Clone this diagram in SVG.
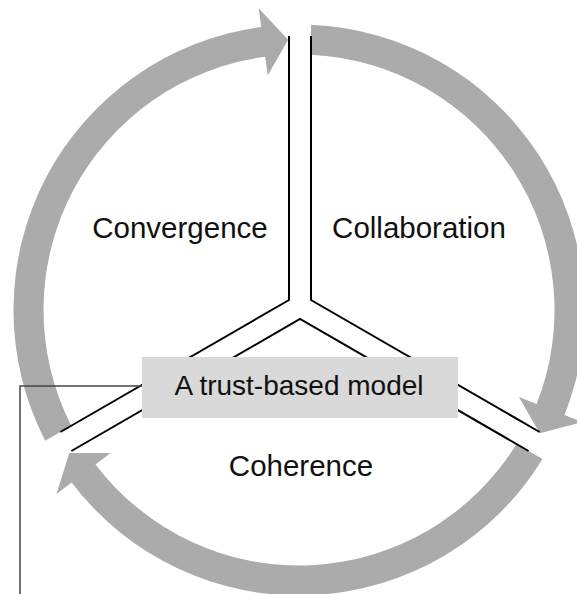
<svg xmlns="http://www.w3.org/2000/svg" width="577" height="594" viewBox="0 0 577 594">
  <style>
    .arc { fill: #ababab; stroke: none; }
    .div { fill: none; stroke: #000; stroke-width: 2; stroke-linejoin: miter; }
    .conn { fill: none; stroke: #444; stroke-width: 1.5; }
    .lbl { font-family: "Liberation Sans", Arial, sans-serif; font-size: 28px; fill: #111; text-anchor: middle; }
    .big { font-size: 29.5px; }
    .box { fill: #d9d9d9; }
  </style>
  <rect width="577" height="594" fill="#fff"/>
  <g id="cycle-arrows">
    <path id="arrow-convergence" class="arc" d="M 45.2 440.75 A 285.5 285.5 0 0 1 261.2 27.0 L 258.7 8.2 L 288.15 39.7 L 267.7 75.6 L 265.2 56.75 A 255.5 255.5 0 0 0 71.2 425.7 Z"/>
    <path id="arrow-collaboration" class="arc" d="M 311 24.75 A 285.5 285.5 0 0 1 564.5 415.1 L 582.1 422.1 L 539.8 433.2 L 518.9 397.05 L 536.6 404.05 A 255.5 255.5 0 0 0 311 54.8 Z"/>
    <path id="arrow-coherence" class="arc" d="M 542.5 459.0 A 285.5 285.5 0 0 1 71.6 482.6 L 56.5 494.1 L 69.3 452.9 L 110.6 453.0 L 95.5 464.5 A 255.5 255.5 0 0 0 516.5 444.0 Z"/>
  </g>
  <g id="connectors">
    <polyline class="div" points="60.4,432 289,300 289,36"/>
    <polyline class="div" points="311,36 311,300 539.6,432"/>
    <polyline class="div" points="71.4,451 300,319 528.6,451"/>
    <polyline class="conn" points="142,386 20,386 20,594"/>
  </g>
  <g id="label-convergence">
    <text class="lbl big" x="180" y="238">Convergence</text>
  </g>
  <g id="label-collaboration">
    <text class="lbl big" x="419" y="238">Collaboration</text>
  </g>
  <g id="label-coherence">
    <text class="lbl big" x="301" y="476">Coherence</text>
  </g>
  <g id="center-model">
    <rect class="box" x="142" y="357" width="316" height="61"/>
    <text class="lbl" x="299" y="395">A trust-based model</text>
  </g>
</svg>
